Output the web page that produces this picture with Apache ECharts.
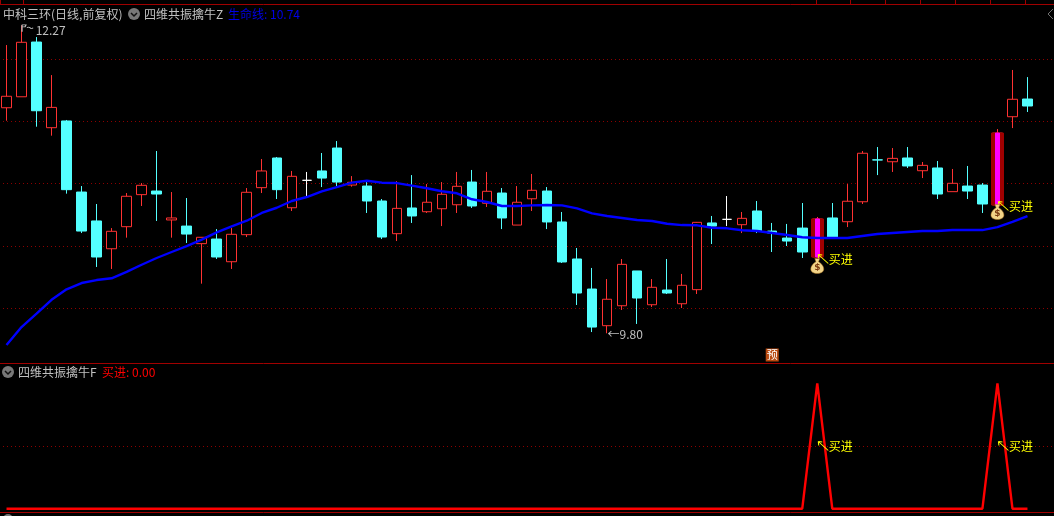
<!DOCTYPE html>
<html><head><meta charset="utf-8">
<style>html,body{margin:0;padding:0;background:#000;overflow:hidden}#c{width:1067px;height:516px;margin-left:-1px}</style>
<script src="https://cdn.jsdelivr.net/npm/echarts@6/dist/echarts.min.js"></script></head>
<body><div id="c"></div>
<script>
const open=[11.609,11.697,12.136,11.449,11.503,10.933,10.701,10.478,10.655,10.912,10.941,10.709,10.66,10.519,10.556,10.374,10.591,10.968,11.206,10.807,11.027,11.102,11.286,10.989,10.981,10.861,10.599,10.805,10.775,10.799,10.831,11.013,10.843,10.925,10.668,10.879,10.941,10.693,10.396,10.155,9.861,10.021,10.30,10.029,10.147,10.037,10.15,10.685,10.714,10.671,10.781,10.62,10.564,10.644,10.412,10.725,10.695,10.855,11.191,11.176,11.206,11.104,11.126,10.936,10.981,10.989,10.829,11.537,11.679];
const close=[11.701,12.134,11.585,11.612,10.952,10.62,10.412,10.618,10.899,10.987,10.917,10.725,10.596,10.57,10.412,10.594,10.931,11.102,10.952,11.059,11.027,11.045,11.013,11.011,10.861,10.572,10.802,10.741,10.851,10.915,10.979,10.821,10.939,10.725,10.851,10.947,10.693,10.372,10.123,9.85,10.073,10.353,10.083,10.169,10.123,10.185,10.69,10.66,10.714,10.722,10.62,10.604,10.54,10.452,10.717,10.572,10.859,11.244,11.19,11.203,11.142,11.147,10.917,11.003,10.941,10.837,11.406,11.677,11.623];
const low=[11.505,11.697,11.457,11.385,10.92,10.604,10.332,10.316,10.567,10.821,10.701,10.567,10.524,10.198,10.396,10.316,10.572,10.925,10.877,10.781,10.901,10.973,10.981,10.976,10.765,10.556,10.54,10.685,10.765,10.66,10.765,10.805,10.813,10.636,10.668,10.781,10.636,10.364,10.027,9.81,9.80,9.987,9.875,10.011,10.115,10.003,10.115,10.516,10.66,10.604,10.604,10.452,10.5,10.404,10.404,10.572,10.652,10.837,11.069,11.094,11.126,11.045,10.877,10.936,10.877,10.765,10.829,11.446,11.575];
const high=[12.112,12.27,12.176,11.871,11.511,10.981,10.837,10.644,10.925,11.005,11.262,10.933,10.885,10.57,10.636,10.644,10.965,11.198,11.214,11.102,11.094,11.246,11.342,11.061,11.029,10.877,11.021,11.069,10.997,11.013,11.094,11.11,11.094,10.965,10.981,11.078,10.973,10.773,10.484,10.324,10.235,10.396,10.30,10.235,10.396,10.276,10.693,10.741,10.901,10.773,10.861,10.685,10.677,10.845,10.733,10.845,10.997,11.262,11.294,11.286,11.294,11.174,11.182,11.118,11.142,11.005,11.438,11.912,11.855];
const lifeLine=[9.706,9.85,9.957,10.069,10.153,10.203,10.227,10.241,10.292,10.35,10.404,10.452,10.5,10.551,10.61,10.658,10.703,10.765,10.807,10.861,10.893,10.939,10.973,11.008,11.024,11.008,11.005,10.984,10.963,10.939,10.923,10.875,10.853,10.821,10.821,10.826,10.829,10.826,10.802,10.762,10.741,10.725,10.709,10.701,10.679,10.668,10.666,10.647,10.642,10.626,10.62,10.604,10.588,10.57,10.564,10.564,10.564,10.58,10.596,10.604,10.612,10.62,10.62,10.628,10.628,10.628,10.652,10.693,10.74];
const signalDays=[54,66];
const buySignal=[0,0,0,0,0,0,0,0,0,0,0,0,0,0,0,0,0,0,0,0,0,0,0,0,0,0,0,0,0,0,0,0,0,0,0,0,0,0,0,0,0,0,0,0,0,0,0,0,0,0,0,0,0,0,1,0,0,0,0,0,0,0,0,0,0,0,1,0,0];
const yTicksMain=[9.5,12.4,0.5];
const yTicksSub=[0,1,0.5];
const headerMain='中科三环(日线,前复权)', headerZ='四维共振擒牛Z', headerZValue='生命线: 10.74';
const headerF='四维共振擒牛F', headerFValue='买进: 0.00', buyText='买进';
const highLabel='12.27', lowLabel='9.80', forecastText='预';

const categories=open.map((_,i)=>String(i+1)).concat(['+1','+2']);
const FONT='"Noto Sans CJK SC","Noto Sans",sans-serif';
const GREY='#c0c0c0', YEL='#ffff00', RED='#ff3232', CY='#54ffff', DIV='#a00000', DOT='#8c0000';
const candles=open.map((o,i)=>[o,close[i],low[i],high[i]]);
const sigData=open.map((o,i)=>signalDays.includes(i)?[o,close[i],o,close[i]]:['-','-','-','-']);
const arrowPath='path://M0 0L10 9M0 0L4 0.5M0 0L0.5 4';
const flagPath='path://M0 0V7M0 0H4L3 2H0M5 3C6 2 7 2 8 3S10 4 11 3';
const bagPath='path://M4 0H9L7.8 3.2C11 5 13 8 13 10.5C13 13.5 10 15 6.5 15S0 13.5 0 10.5C0 8 2 5 5.2 3.2Z';
function buyMark(i,v,dx,dy){return{coord:[i,v],symbol:arrowPath,symbolSize:[10,9],symbolOffset:[dx,dy],
  itemStyle:{color:'rgba(0,0,0,0)',borderColor:YEL,borderWidth:1},
  label:{show:true,position:'right',distance:0,formatter:buyText,color:YEL,fontSize:12,fontFamily:FONT}};}
function bagMark(i,v,dy){return{coord:[i,v],symbol:bagPath,symbolSize:[13,15],symbolOffset:[0,dy],
  itemStyle:{color:'#f2d488',borderColor:'#a8701c',borderWidth:0.5},
  label:{show:true,position:'inside',offset:[0,2],formatter:'$',color:'#7a3a10',fontSize:9,fontWeight:'bold',fontFamily:'"DejaVu Sans"'}};}
const mainMarks=[
  {coord:[1,high[1]],symbol:flagPath,symbolSize:[11,7],symbolOffset:[6,3],itemStyle:{color:'rgba(0,0,0,0)',borderColor:GREY,borderWidth:1},
   label:{show:true,position:'right',distance:2,offset:[0,2],formatter:highLabel,color:GREY,fontSize:12,fontFamily:FONT}},
  {coord:[40,low[40]],symbol:'rect',symbolSize:1,itemStyle:{color:'rgba(0,0,0,0)'},
   label:{show:true,position:'right',distance:0,offset:[0,1],formatter:'←'+lowLabel,color:GREY,fontSize:12,fontFamily:FONT}},
  {coord:[51,9.626],symbol:'rect',symbolSize:13,itemStyle:{color:'#b84a10'},
   label:{show:true,position:'inside',formatter:forecastText,color:'#fff',fontSize:11,fontFamily:FONT}},
  buyMark(54,open[54],6,2), bagMark(54,open[54],9),
  buyMark(66,open[66],6,1), bagMark(66,open[66],7)
];
const subMarks=[buyMark(54,0.5,6,0),buyMark(66,0.5,6,0)];

function txt(x,y,t,c){return{type:'text',x:x,y:y,silent:true,style:{text:t,fill:c,font:'12px '+FONT,textVerticalAlign:'middle'}};}
function hline(y){return{type:'line',silent:true,shape:{x1:0,y1:y+.5,x2:1054,y2:y+.5},style:{stroke:DIV,lineWidth:1}};}
function tick(x){return{type:'line',silent:true,shape:{x1:x+.5,y1:0,x2:x+.5,y2:4},style:{stroke:DIV,lineWidth:1}};}
function icon(x,y){return[
  {type:'circle',silent:true,shape:{cx:x,cy:y,r:6},style:{fill:'#787878'}},
  {type:'polyline',silent:true,shape:{points:[[x-3,y-1],[x,y+2],[x+3,y-1]]},style:{stroke:'#111',fill:null,lineWidth:1.5}}];}
const gfx=[hline(4),hline(363),hline(512)]
 .concat([0,23,816,850,885,920,955,990,1025].map(tick))
 .concat(icon(134,14),icon(8,372))
 .concat([
  txt(3,14,headerMain,GREY),txt(144,14,headerZ,GREY),txt(228,14,headerZValue,'#0000e6'),
  txt(18,372,headerF,GREY),txt(102,372,headerFValue,'#ff0000'),
  {type:'polyline',silent:true,shape:{points:[[1053,9],[1048,14],[1053,19]]},style:{stroke:'#707070',fill:null,lineWidth:1}},
  {type:'circle',silent:true,shape:{cx:8,cy:519,r:5},style:{fill:'#787878'}}
 ]);

const chart=echarts.init(document.getElementById('c'),null,{renderer:'canvas'});
chart.setOption({
  backgroundColor:'#000',animation:false,
  grid:[{left:0,width:1066,top:9.13,height:361.57},{left:0,width:1066,top:383.3,height:125.4}],
  xAxis:[0,1].map(k=>({type:'category',gridIndex:k,data:categories,show:false,boundaryGap:true})),
  yAxis:[
   {type:'value',gridIndex:0,min:yTicksMain[0],max:yTicksMain[1],interval:yTicksMain[2],
    axisLine:{show:false},axisTick:{show:false},axisLabel:{show:false},
    splitLine:{show:true,showMinLine:false,showMaxLine:false,lineStyle:{color:DOT,type:[1,3],width:1}}},
   {type:'value',gridIndex:1,min:yTicksSub[0],max:yTicksSub[1],interval:yTicksSub[2],
    axisLine:{show:false},axisTick:{show:false},axisLabel:{show:false},
    splitLine:{show:true,showMinLine:false,showMaxLine:false,lineStyle:{color:DOT,type:[1,3],width:1}}}
  ],
  series:[
   {type:'candlestick',name:'K',xAxisIndex:0,yAxisIndex:0,data:candles,barWidth:10,silent:true,
    itemStyle:{color:'#000',color0:CY,borderColor:RED,borderColor0:CY,borderColorDoji:'#ffffff',borderWidth:1}},
   {type:'candlestick',name:'signalOuter',xAxisIndex:0,yAxisIndex:0,data:sigData,barWidth:12,silent:true,
    itemStyle:{color:'#a00000',color0:'#a00000',borderColor:'#a00000',borderColor0:'#a00000',borderWidth:1}},
   {type:'candlestick',name:'signalInner',xAxisIndex:0,yAxisIndex:0,data:sigData,barWidth:4,silent:true,
    itemStyle:{color:'#ff00ff',color0:'#ff00ff',borderColor:'#ff00ff',borderColor0:'#ff00ff',borderWidth:1}},
   {type:'line',name:'生命线',xAxisIndex:0,yAxisIndex:0,data:lifeLine,showSymbol:false,symbol:'none',smooth:false,silent:true,z:5,
    lineStyle:{color:'#0000ff',width:2.4},
    markPoint:{silent:true,animation:false,z:8,data:mainMarks}},
   {type:'line',name:'买进',xAxisIndex:1,yAxisIndex:1,data:buySignal,showSymbol:false,symbol:'none',silent:true,clip:false,z:5,
    lineStyle:{color:'#ff0000',width:2.4},
    markPoint:{silent:true,animation:false,z:8,data:subMarks}}
  ],
  graphic:[{type:'group',x:1,y:0,children:gfx}]
});
</script></body></html>
